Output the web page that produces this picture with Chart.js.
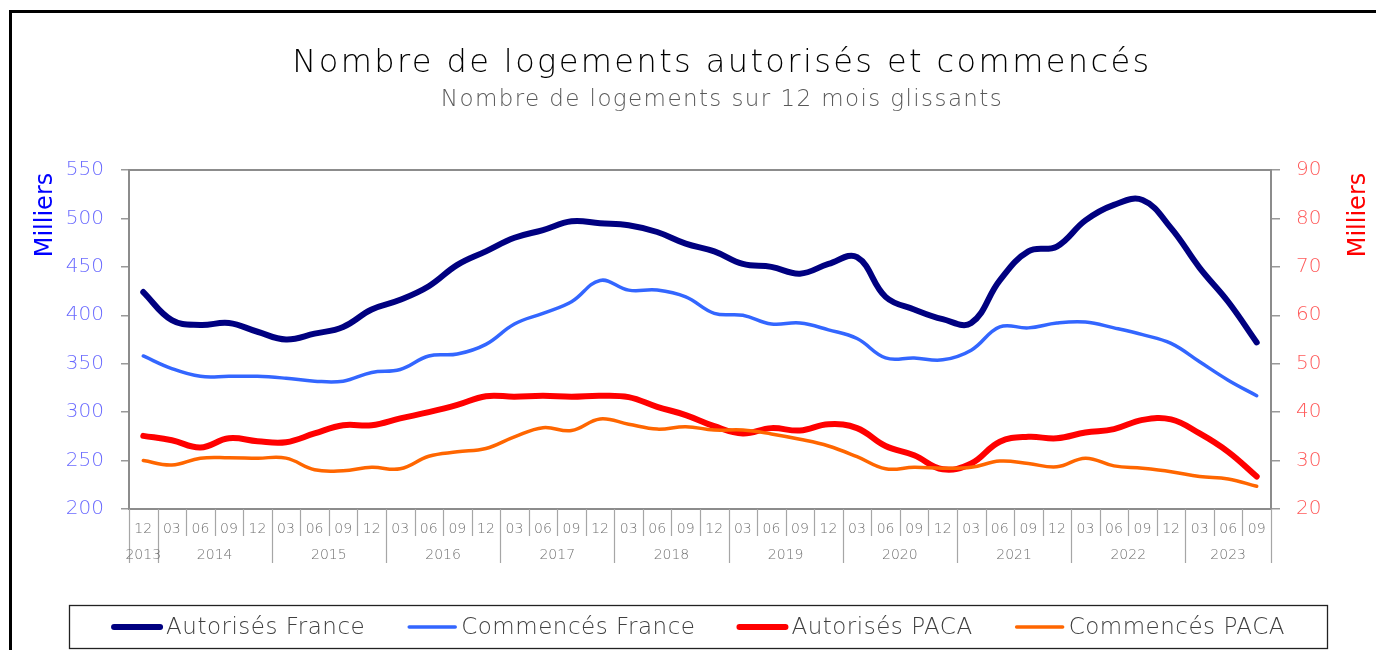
<!DOCTYPE html>
<html lang="fr">
<head>
<meta charset="utf-8">
<title>Nombre de logements autorisés et commencés</title>
<script src="https://cdn.jsdelivr.net/npm/chart.js@4.4.1/dist/chart.umd.min.js"></script>
<style>
  html, body { margin: 0; padding: 0; background: #fff; }
</style>
</head>
<body>
<canvas id="logements" width="1376" height="650"></canvas>
<script>
// trimestres, de 12/2013 a 09/2023
const mois = ['12',
  '03','06','09','12', '03','06','09','12', '03','06','09','12',
  '03','06','09','12', '03','06','09','12', '03','06','09','12',
  '03','06','09','12', '03','06','09','12', '03','06','09','12',
  '03','06','09'];
const annees = ['2013',
  '2014','2014','2014','2014', '2015','2015','2015','2015', '2016','2016','2016','2016',
  '2017','2017','2017','2017', '2018','2018','2018','2018', '2019','2019','2019','2019',
  '2020','2020','2020','2020', '2021','2021','2021','2021', '2022','2022','2022','2022',
  '2023','2023','2023'];

// France (milliers, axe gauche)
const autorisesFrance = [424, 395, 390, 392, 383, 375, 381, 388, 406, 416, 430, 452, 466, 480,
  488, 497, 495, 493, 486, 474, 466, 453, 450, 443, 453, 460, 419, 406, 396, 392,
  436, 466, 471, 498, 514, 519, 490, 449, 414, 372];
const commencesFrance = [358, 345, 337, 337, 337, 335, 332, 332, 341, 344, 358, 360, 370, 391,
  402, 414, 436, 426, 426, 419, 402, 400, 391, 392, 385, 376, 356, 356, 354, 364,
  388, 387, 392, 393, 387, 380, 371, 352, 333, 317];

// PACA (milliers, axe droit)
const autorisesPACA = [35.1, 34.2, 32.7, 34.6, 34.0, 33.8, 35.6, 37.3, 37.3, 38.7, 40.0, 41.5,
  43.3, 43.2, 43.4, 43.2, 43.4, 43.1, 41.1, 39.4, 37.1, 35.6, 36.7, 36.2, 37.5, 36.7,
  33.0, 31.1, 28.2, 29.4, 33.9, 34.9, 34.6, 35.8, 36.5, 38.4, 38.5, 35.6, 31.8, 26.7];
const commencesPACA = [30.0, 29.1, 30.5, 30.6, 30.5, 30.5, 28.1, 27.9, 28.6, 28.3, 30.9, 31.8,
  32.5, 34.9, 36.8, 36.2, 38.6, 37.5, 36.5, 37.0, 36.3, 36.3, 35.5, 34.4, 33.0, 30.8,
  28.3, 28.6, 28.4, 28.6, 29.9, 29.4, 28.7, 30.5, 28.9, 28.4, 27.7, 26.7, 26.2, 24.7];

const FONT = '"DejaVu Sans", sans-serif';

const decor = {
  id: 'decor',
  beforeDraw(chart) {
    const ctx = chart.ctx;
    ctx.save();
    ctx.fillStyle = '#fff';
    ctx.fillRect(0, 0, chart.width, chart.height);
    // cadre noir
    ctx.strokeStyle = '#000';
    ctx.lineWidth = 3;
    ctx.strokeRect(10.5, 11.5, chart.width + 20, chart.height + 20);
    ctx.restore();
  },
  afterDraw(chart) {
    const ctx = chart.ctx;
    const area = chart.chartArea;
    const x = chart.scales.x;
    const w = (area.right - area.left) / mois.length;
    ctx.save();

    // cadre de la zone de tracé
    ctx.strokeStyle = '#8c8c8c';
    ctx.lineWidth = 2;
    ctx.strokeRect(area.left, area.top, area.right - area.left, area.bottom - area.top);

    // séparateurs trimestres / années
    ctx.strokeStyle = '#a6a6a6';
    ctx.lineWidth = 1.2;
    for (let i = 0; i <= mois.length; i++) {
      const px = Math.round(x.getPixelForValue(i) - w / 2) + 0.5;
      const debutAnnee = i === 0 || i === mois.length || annees[i] !== annees[i - 1];
      ctx.beginPath();
      ctx.moveTo(px, area.bottom);
      ctx.lineTo(px, area.bottom + (debutAnnee ? 54 : 27));
      ctx.stroke();
    }
    // libellés des années
    ctx.fillStyle = '#707070';
    ctx.font = '300 14px ' + FONT;
    ctx.textAlign = 'center';
    ctx.textBaseline = 'middle';
    let debut = 0;
    for (let i = 1; i <= annees.length; i++) {
      if (i === annees.length || annees[i] !== annees[debut]) {
        const cx = (x.getPixelForValue(debut) + x.getPixelForValue(i - 1)) / 2;
        ctx.fillText(annees[debut], cx, area.bottom + 46);
        debut = i;
      }
    }

    // titres
    ctx.fillStyle = '#000';
    ctx.font = '200 32px ' + FONT;
    ctx.letterSpacing = '2.4px';
    ctx.textBaseline = 'alphabetic';
    ctx.fillText('Nombre de logements autorisés et commencés', 722, 72);
    ctx.fillStyle = '#595959';
    ctx.font = '200 23px ' + FONT;
    ctx.letterSpacing = '1.4px';
    ctx.fillText('Nombre de logements sur 12 mois glissants', 722, 106);
    ctx.letterSpacing = '0px';

    // titres des axes
    ctx.font = '24px ' + FONT;
    ctx.textBaseline = 'middle';
    ctx.save();
    ctx.translate(46, 215);
    ctx.rotate(-Math.PI / 2);
    ctx.fillStyle = '#0000ff';
    ctx.fillText('Milliers', 0, 0);
    ctx.restore();
    ctx.save();
    ctx.translate(1359, 215);
    ctx.rotate(-Math.PI / 2);
    ctx.fillStyle = '#ff0000';
    ctx.fillText('Milliers', 0, 0);
    ctx.restore();

    // légende
    const box = { left: 69.5, top: 605.5, right: 1327.5, bottom: 648.5 };
    ctx.strokeStyle = '#222';
    ctx.lineWidth = 1.3;
    ctx.strokeRect(box.left, box.top, box.right - box.left, box.bottom - box.top);
    ctx.font = '300 23px ' + FONT;
    ctx.letterSpacing = '0.5px';
    ctx.textAlign = 'left';
    const trait = 50, ecart = 4, entre = 42;
    const sets = chart.data.datasets;
    let total = 0;
    sets.forEach((ds, i) => {
      total += trait + ecart + ctx.measureText(ds.label).width + (i < sets.length - 1 ? entre : 0);
    });
    let lx = (box.left + box.right) / 2 - total / 2;
    const ly = 627;
    sets.forEach(ds => {
      ctx.strokeStyle = ds.borderColor;
      ctx.lineWidth = ds.borderWidth;
      ctx.lineCap = 'round';
      ctx.beginPath();
      ctx.moveTo(lx + 2, ly);
      ctx.lineTo(lx + trait - 2, ly);
      ctx.stroke();
      lx += trait + ecart;
      ctx.fillStyle = '#404040';
      ctx.fillText(ds.label, lx, ly + 1);
      lx += ctx.measureText(ds.label).width + entre;
    });
    ctx.restore();
  }
};

new Chart(document.getElementById('logements'), {
  type: 'line',
  data: {
    labels: mois,
    datasets: [
      { label: 'Autorisés France', data: autorisesFrance, yAxisID: 'y',
        borderColor: '#000080', borderWidth: 6, order: 4 },
      { label: 'Commencés France', data: commencesFrance, yAxisID: 'y',
        borderColor: '#3366ff', borderWidth: 3.5, order: 3 },
      { label: 'Autorisés PACA', data: autorisesPACA, yAxisID: 'y1',
        borderColor: '#ff0000', borderWidth: 6, order: 2 },
      { label: 'Commencés PACA', data: commencesPACA, yAxisID: 'y1',
        borderColor: '#ff6600', borderWidth: 3.5, order: 1 }
    ]
  },
  options: {
    responsive: false,
    animation: false,
    devicePixelRatio: 1,
    layout: { padding: { top: 170, bottom: 81, left: 0, right: 0 } },
    elements: {
      point: { radius: 0 },
      line: { tension: 0.4, borderCapStyle: 'round', borderJoinStyle: 'round', fill: false }
    },
    plugins: {
      legend: { display: false },
      tooltip: { enabled: false }
    },
    scales: {
      x: {
        offset: true,
        grid: { display: false },
        border: { display: false },
        ticks: { color: '#707070', font: { family: FONT, size: 14, weight: 300 }, padding: 4,
                 maxRotation: 0, autoSkip: false },
        afterFit(s) { s.height = 60; }
      },
      y: {
        position: 'left',
        min: 200, max: 550,
        border: { display: false },
        grid: { drawOnChartArea: false, tickLength: 8, color: '#999', lineWidth: 1.5 },
        ticks: { stepSize: 50, color: '#6b6bff', padding: 17, font: { family: FONT, size: 20, weight: 300 } },
        afterFit(s) { s.width = 129; }
      },
      y1: {
        position: 'right',
        min: 20, max: 90,
        border: { display: false },
        grid: { drawOnChartArea: false, tickLength: 9, color: '#999', lineWidth: 1.5 },
        ticks: { stepSize: 10, color: '#ff5b5b', padding: 16, font: { family: FONT, size: 20, weight: 300 } },
        afterFit(s) { s.width = 105; }
      }
    }
  },
  plugins: [decor]
});
</script>
</body>
</html>
